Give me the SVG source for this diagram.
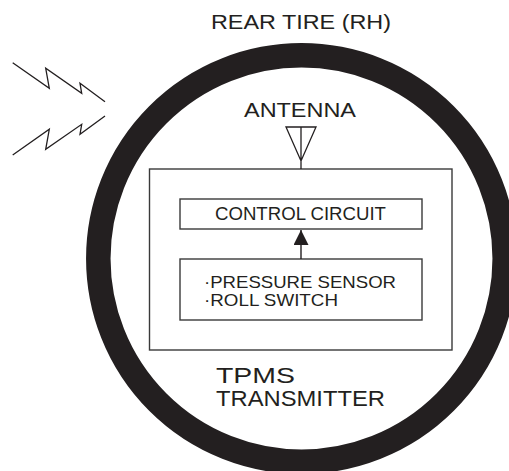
<svg xmlns="http://www.w3.org/2000/svg" width="509" height="471" viewBox="0 0 509 471">
<defs>
<style>
.t{font-family:"Liberation Sans",Arial,sans-serif;fill:#231f20}
.box{fill:#fff;stroke:#3a3a3a;stroke-width:1.4}
.ln{fill:none;stroke:#231f20;stroke-width:1.3;stroke-linejoin:miter}
</style>
<marker id="ah" viewBox="0 0 10 10" refX="10" refY="5" markerWidth="15" markerHeight="15" markerUnits="userSpaceOnUse" orient="auto">
<path d="M0,0 L10,5 L0,10 Z" fill="#231f20"/>
</marker>
</defs>
<rect width="509" height="471" fill="#fff"/>
<g id="tire">
<circle cx="301.5" cy="258.5" r="203.2" fill="none" stroke="#231f20" stroke-width="24.5"/>
<text class="t" x="301" y="29" font-size="21" text-anchor="middle" textLength="180" lengthAdjust="spacingAndGlyphs">REAR TIRE (RH)</text>
</g>
<g id="signals">
<path class="ln" d="M12.7,62.7 L49.3,88.3 L45.7,68.3 L81.7,93.3 L80,83.3 L105,101.7"/>
<path class="ln" d="M12.7,155 L49.3,129.3 L45.7,149.3 L81.7,124.3 L80,134.3 L105,116"/>
</g>
<g id="transmitter">
<rect class="box" x="149.5" y="169" width="302.5" height="181"/>
<text class="t" x="216" y="382.7" font-size="22" textLength="79" lengthAdjust="spacingAndGlyphs">TPMS</text>
<text class="t" x="216" y="406" font-size="22" textLength="169" lengthAdjust="spacingAndGlyphs">TRANSMITTER</text>
</g>
<g id="antenna">
<path class="ln" d="M301,169 V127 M286,127 H316 L301,161 Z"/>
<text class="t" x="300" y="116.7" font-size="21" text-anchor="middle" textLength="112" lengthAdjust="spacingAndGlyphs">ANTENNA</text>
</g>
<g id="control-circuit">
<rect class="box" x="180" y="199" width="242" height="30"/>
<text class="t" x="300.5" y="220" font-size="18" text-anchor="middle" textLength="171" lengthAdjust="spacingAndGlyphs">CONTROL CIRCUIT</text>
</g>
<g id="sensor">
<rect class="box" x="180" y="259" width="242" height="61"/>
<text class="t" x="204" y="288" font-size="17" textLength="192" lengthAdjust="spacingAndGlyphs">·PRESSURE SENSOR</text>
<text class="t" x="204" y="305.7" font-size="17" textLength="134" lengthAdjust="spacingAndGlyphs">·ROLL SWITCH</text>
</g>
<g id="connectors">
<line x1="301" y1="259" x2="301" y2="230" stroke="#231f20" stroke-width="1.4" marker-end="url(#ah)"/>
</g>
</svg>
